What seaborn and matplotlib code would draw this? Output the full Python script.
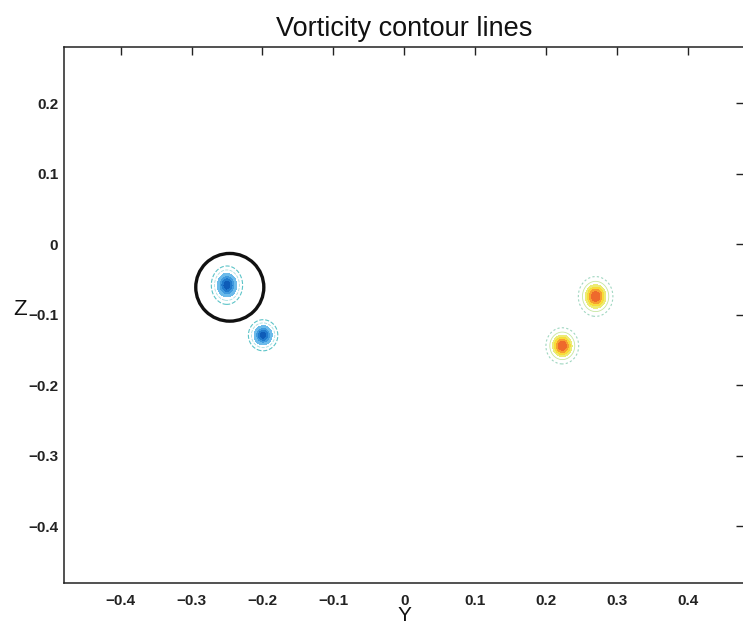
import numpy as np
import matplotlib
matplotlib.use("Agg")
import matplotlib.pyplot as plt
import seaborn as sns
from matplotlib.patches import Circle

# vortex data
vortex_y = [-0.250, -0.199, 0.270, 0.223]
vortex_z = [-0.058, -0.129, -0.074, -0.144]
vortex_strength = [-1.0, -1.0, 0.8, 0.8]
vortex_sy = [0.0085, 0.0080, 0.0095, 0.0090]
vortex_sz = [0.0105, 0.0085, 0.0110, 0.0100]

# highlighted vortex
circle_y = -0.246
circle_z = -0.061
circle_r = 0.048

xticks = [-0.4, -0.3, -0.2, -0.1, 0, 0.1, 0.2, 0.3, 0.4]
yticks = [-0.4, -0.3, -0.2, -0.1, 0, 0.1, 0.2]

sns.set_theme(style="white")
plt.rcParams['font.family'] = ['Liberation Sans', 'DejaVu Sans']

# build the vorticity field from the vortex list
gy = np.linspace(-0.48, 0.48, 800)
gz = np.linspace(-0.48, 0.28, 640)
Y, Z = np.meshgrid(gy, gz)
W = np.zeros_like(Y)
for y0, z0, s, sy, sz in zip(vortex_y, vortex_z, vortex_strength, vortex_sy, vortex_sz):
    W += s * np.exp(-((Y - y0) ** 2 / (2 * sy ** 2) + (Z - z0) ** 2 / (2 * sz ** 2)))

fig = plt.figure(figsize=(7.43, 6.24), dpi=100)
ax = fig.add_axes([0.086, 0.066, 0.916, 0.859])

neg_levels = [-1.05, -0.8, -0.6, -0.42, -0.28]
pos_levels = [0.25, 0.38, 0.52, 0.66, 0.85]
neg_colors = sns.blend_palette(['#0e5cb8', '#2a8ad8', '#6cbbea'], 4)
pos_colors = sns.blend_palette(['#eceb74', '#f8dc3a', '#f6a030', '#ee6a2c'], 4)
ax.contourf(Y, Z, W, levels=neg_levels, colors=neg_colors)
ax.contourf(Y, Z, W, levels=pos_levels, colors=pos_colors)
# faint outer contour lines
ax.contour(Y, Z, W, levels=[-0.035], colors=['#5cc4c8'], linewidths=0.8)
ax.contour(Y, Z, W, levels=[-0.12], colors=['#a6dfe0'], linewidths=0.6)
ax.contour(Y, Z, W, levels=[0.03], colors=['#9fd6c0'], linewidths=0.8,
           linestyles=[(0, (2, 2))])
ax.contour(Y, Z, W, levels=[0.12], colors=['#c6e6a0'], linewidths=0.6)

ax.add_patch(Circle((circle_y, circle_z), circle_r, fill=False, edgecolor='#111111', lw=2.4))

ax.set_xlim(-0.48, 0.48)
ax.set_ylim(-0.48, 0.28)
ax.set_xticks(xticks)
ax.set_yticks(yticks)
ax.set_xticklabels(['\u22120.4', '\u22120.3', '\u22120.2', '\u22120.1', '0', '0.1', '0.2', '0.3', '0.4'])
ax.set_yticklabels(['\u22120.4', '\u22120.3', '\u22120.2', '\u22120.1', '0', '0.1', '0.2'])
ax.tick_params(direction='in', length=6, width=1, top=True, right=True,
               labelsize=11, colors='#222222')
ax.tick_params(axis='x', pad=8)
ax.tick_params(axis='y', pad=4)
for lab in ax.get_xticklabels() + ax.get_yticklabels():
    lab.set_fontweight('bold')
for sp in ax.spines.values():
    sp.set_color('#222222')
    sp.set_linewidth(1.1)

ax.set_title('Vorticity contour lines', fontsize=19.5, pad=8, color='#111111')
ax.set_xlabel('Y', fontsize=15, color='#111111', va='top')
ax.xaxis.set_label_coords(0.5, -0.044)
ax.set_ylabel('Z', fontsize=16, rotation=0, ha='center', va='center', color='#111111')
ax.yaxis.set_label_coords(-0.064, 0.51)

plt.savefig('out.png', dpi=100)
